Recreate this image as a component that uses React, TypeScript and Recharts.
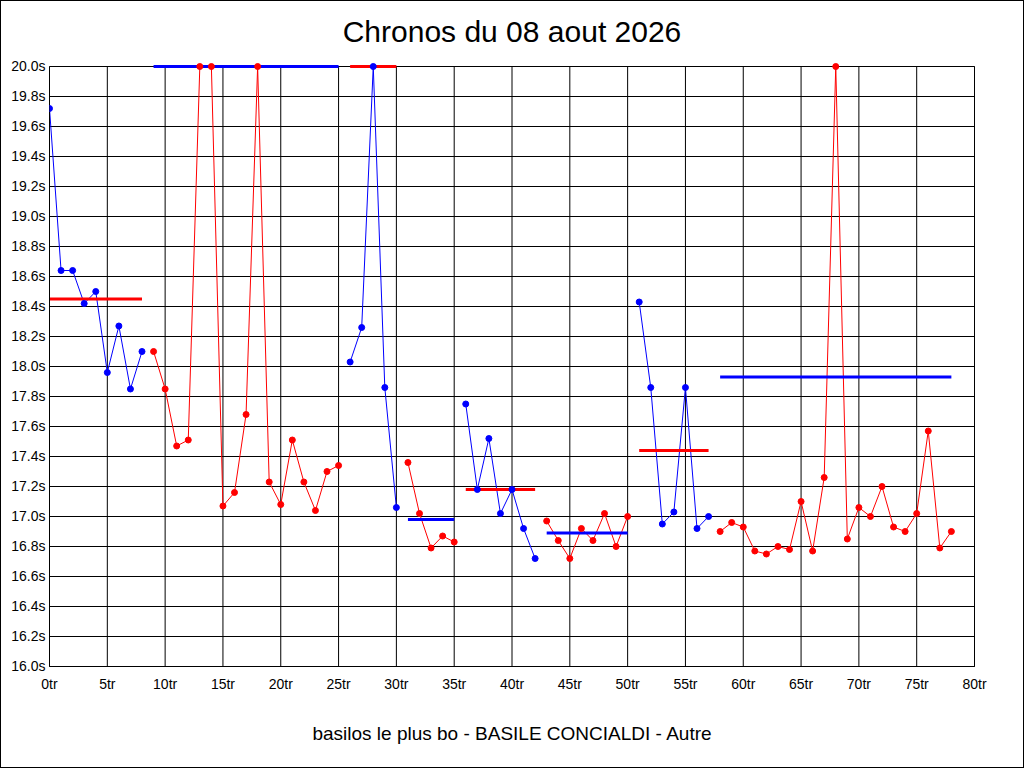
import React from 'react';
import { LineChart, Line, XAxis, YAxis, CartesianGrid } from 'recharts';

// Lap times (seconds), index = lap number. Values drawn at 20.0s are off-scale laps shown clipped at the top.
const lapTimes: number[] = [
  19.72, 18.64, 18.64, 18.42, 18.5, 17.96, 18.27, 17.85, 18.1,
  18.1, 17.85, 17.47, 17.51, 20.0, 20.0, 17.07, 17.16, 17.68, 20.0, 17.23, 17.08, 17.51, 17.23, 17.04, 17.3, 17.34,
  18.03, 18.26, 20.0, 17.86, 17.06,
  17.36, 17.02, 16.79, 16.87, 16.83,
  17.75, 17.18, 17.52, 17.02, 17.18, 16.92, 16.72,
  16.97, 16.84, 16.72, 16.92, 16.84, 17.02, 16.8, 17.0,
  18.43, 17.86, 16.95, 17.03, 17.86, 16.92, 17.0,
  16.9, 16.96, 16.93, 16.77, 16.75, 16.8, 16.78, 17.1, 16.77, 17.26, 20.0, 16.85, 17.06, 17.0, 17.2, 16.93, 16.9, 17.02, 17.57, 16.79, 16.9,
];

const segmentStarts: number[] = [0, 9, 26, 31, 36, 43, 51, 58];
const segmentEnds: number[] = [8, 25, 30, 35, 42, 50, 57, 78];
const segmentAverages: number[] = [18.45, 20.0, 20.0, 16.98, 17.18, 16.89, 17.44, 17.93];
const segmentColors: string[] = ['#0000ff', '#ff0000', '#0000ff', '#ff0000', '#0000ff', '#ff0000', '#0000ff', '#ff0000'];
const averageColors: string[] = ['#ff0000', '#0000ff', '#ff0000', '#0000ff', '#ff0000', '#0000ff', '#ff0000', '#0000ff'];

const xTicks: number[] = [0, 5, 10, 15, 20, 25, 30, 35, 40, 45, 50, 55, 60, 65, 70, 75, 80];
const yTicks: number[] = [16.0, 16.2, 16.4, 16.6, 16.8, 17.0, 17.2, 17.4, 17.6, 17.8, 18.0, 18.2, 18.4, 18.6, 18.8, 19.0, 19.2, 19.4, 19.6, 19.8, 20.0];

const titleText = 'Chronos du 08 aout 2026';
const subtitleText = 'basilos le plus bo - BASILE CONCIALDI - Autre';

const FONT = '"Liberation Sans", Arial, sans-serif';

const segments = segmentStarts.map((start, i) => {
  const end = segmentEnds[i];
  return {
    color: segmentColors[i],
    avgColor: averageColors[i],
    points: lapTimes.slice(start, end + 1).map((t, k) => ({ lap: start + k, t })),
    avg: [
      { lap: start, t: segmentAverages[i] },
      { lap: end, t: segmentAverages[i] },
    ],
  };
});

const tickStyle = { fill: '#000', fontSize: 14, fontFamily: FONT };

export default function App() {
  return (
    <div
      style={{
        position: 'absolute',
        left: 0,
        top: 0,
        width: 1024,
        height: 768,
        background: '#fff',
        fontFamily: FONT,
      }}
    >
      <LineChart
        width={1024}
        height={768}
        margin={{ top: 66.5, right: 4.5, bottom: 71.5, left: 4.5 }}
      >
        <CartesianGrid stroke="#000" strokeWidth={1} />
        <XAxis
          type="number"
          dataKey="lap"
          domain={[0, 80]}
          ticks={xTicks}
          interval={0}
          height={30}
          tickSize={0}
          tickMargin={13}
          axisLine={{ stroke: '#000' }}
          tick={tickStyle}
          tickFormatter={(v: number) => `${v}tr`}
          allowDataOverflow
        />
        <YAxis
          type="number"
          domain={[16, 20]}
          ticks={yTicks}
          interval={0}
          width={45}
          tickSize={0}
          tickMargin={4}
          axisLine={{ stroke: '#000' }}
          tick={tickStyle}
          tickFormatter={(v: number) => `${v.toFixed(1)}s`}
        />
        <YAxis
          yAxisId="r"
          orientation="right"
          type="number"
          domain={[16, 20]}
          ticks={yTicks}
          interval={0}
          width={45}
          tickSize={0}
          tickMargin={5}
          axisLine={{ stroke: '#000' }}
          tick={{ ...tickStyle, textAnchor: 'start' }}
          tickFormatter={(v: number) => `${v.toFixed(1)}s`}
        />
        {segments.map((s, i) => (
          <Line
            key={`seg-${i}`}
            data={s.points}
            dataKey="t"
            type="linear"
            stroke={s.color}
            strokeWidth={1}
            dot={{ r: 3, fill: s.color, stroke: s.color, strokeWidth: 1 }}
            activeDot={false}
            isAnimationActive={false}
          />
        ))}
        {segments.map((s, i) => (
          <Line
            key={`avg-${i}`}
            data={s.avg}
            dataKey="t"
            type="linear"
            stroke={s.avgColor}
            strokeWidth={3}
            dot={false}
            activeDot={false}
            isAnimationActive={false}
          />
        ))}
      </LineChart>
      <div
        style={{
          position: 'absolute',
          left: 0,
          top: 13.5,
          width: 1024,
          height: 36,
          lineHeight: '36px',
          fontSize: 30,
          textAlign: 'center',
          color: '#000',
        }}
      >
        {titleText}
      </div>
      <div
        style={{
          position: 'absolute',
          left: 0,
          top: 722,
          width: 1024,
          height: 24,
          lineHeight: '24px',
          fontSize: 19,
          textAlign: 'center',
          color: '#000',
        }}
      >
        {subtitleText}
      </div>
      <div
        style={{
          position: 'absolute',
          left: 0,
          top: 0,
          width: 1024,
          height: 768,
          boxSizing: 'border-box',
          border: '1px solid #000',
          pointerEvents: 'none',
        }}
      />
    </div>
  );
}
